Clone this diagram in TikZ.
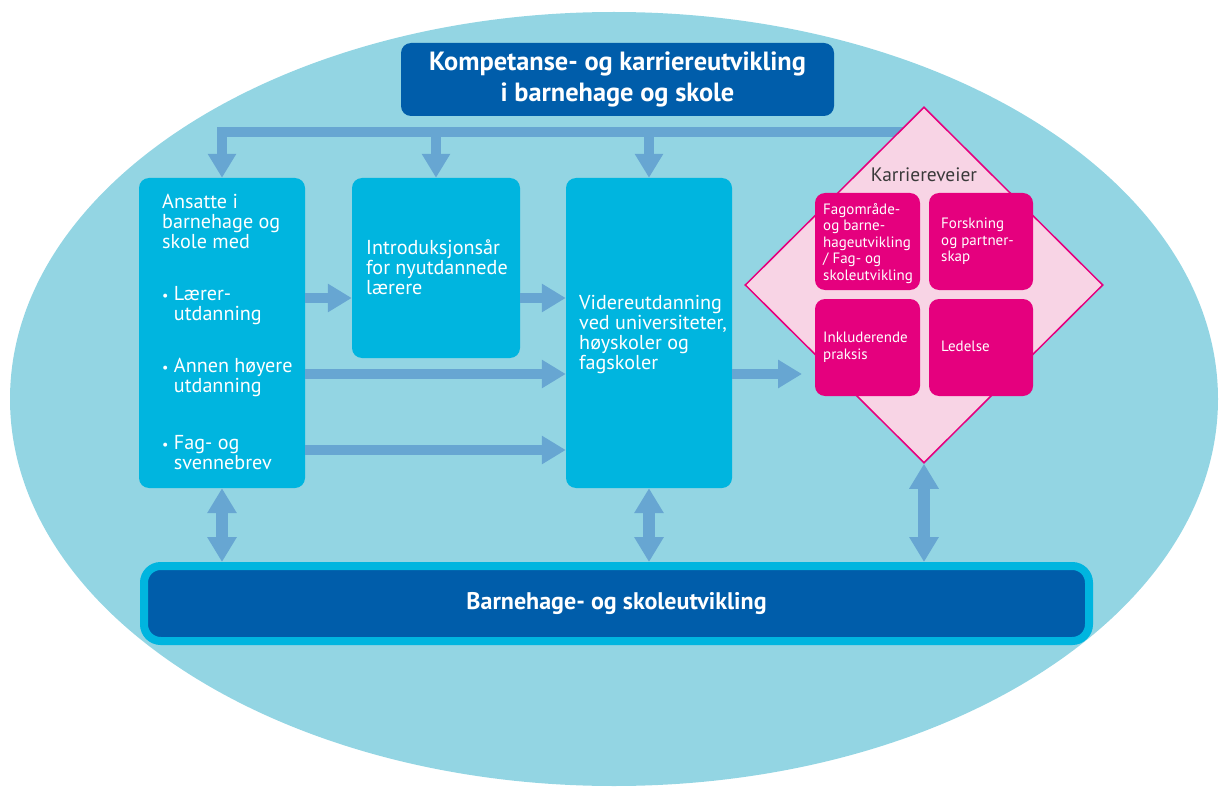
\documentclass[tikz,border=0pt]{standalone}
\usepackage{fontspec}
\setmainfont{PT Sans}
\usetikzlibrary{arrows.meta,fit,shapes.geometric}
\definecolor{ell}{HTML}{93D5E3}
\definecolor{cbox}{HTML}{00B5DF}
\definecolor{arr}{HTML}{67A6D2}
\definecolor{dark}{HTML}{005DAA}
\definecolor{pinkf}{HTML}{F8D4E5}
\definecolor{mag}{HTML}{E5007E}
\definecolor{txtg}{HTML}{3A3A3A}
\newcommand\smbul{{\fontsize{12}{12}\selectfont\textbullet}\ }
\begin{document}
\begin{tikzpicture}[x=0.03cm,y=-0.03cm,
  bluebox/.style={fill=cbox, rounded corners=0.3cm, inner sep=0pt},
  pinkbox/.style={fill=mag, rounded corners=0.3cm, inner sep=0pt},
  darkbox/.style={fill=dark, rounded corners=0.3cm, inner sep=0pt},
  flow/.style={draw=arr, line width=0.3cm, -{Triangle[width=0.81cm,length=0.72cm]}},
  dflow/.style={draw=arr, line width=0.34cm, {Triangle[width=0.84cm,length=0.75cm]}-{Triangle[width=0.84cm,length=0.75cm]}},
  btxt/.style={text=white, anchor=north west, inner sep=0pt, align=left, font=\fontsize{17.2}{17.1}\selectfont},
  ptxt/.style={text=white, anchor=north west, inner sep=0pt, align=left, font=\fontsize{12.8}{14.1}\selectfont},
]
\useasboundingbox (0,0) rectangle (1220,789);
\fill[ell] (614,399) ellipse [x radius=604, y radius=387];

% title
\node[darkbox, fit={(401,43) (834,116)}] (title) {};
\node[text=white, align=center, inner sep=0pt, font=\bfseries\fontsize{22.5}{26.5}\selectfont] (titletxt) at (title.center) {Kompetanse- og karriereutvikling\\i barnehage og skole};

% blue boxes
\node[bluebox, fit={(139,178) (305,488)}] (ans) {};
\node[bluebox, fit={(352,178) (520,358)}] (intro) {};
\node[bluebox, fit={(566,178) (732,488)}] (vid) {};

% top distribution bar
\coordinate (barend) at (905,132);
\draw[flow] (barend) -| (ans.north);
\draw[flow] (intro.north |- barend) -- (intro.north);
\draw[flow] (vid.north |- barend) -- (vid.north);

% diamond
\node[diamond, draw=mag, fill=pinkf, line width=1.3pt, inner sep=0pt, minimum width=358*0.03cm, minimum height=356*0.03cm] (kv) at (924,285) {};
\node[text=txtg, anchor=base, inner sep=0pt, font=\fontsize{16.6}{17}\selectfont] (kvtxt) at (924,182) {Karriereveier};
\node[pinkbox, fit={(815,193) (920,290)}] (p1) {};
\node[pinkbox, fit={(929,193) (1033,290)}] (p2) {};
\node[pinkbox, fit={(815,299) (920,396)}] (p3) {};
\node[pinkbox, fit={(929,299) (1033,396)}] (p4) {};
\coordinate (kvin) at (802,374);

% texts in blue boxes
\node[btxt] (a1) at (162,194) {Ansatte i\\barnehage og\\skole med};
\node[btxt] (a2) at (162,286) {\smbul Lærer-\\\phantom{\smbul}utdanning};
\node[btxt] (a3) at (162,358) {\smbul Annen høyere\\\phantom{\smbul}utdanning};
\node[btxt] (a4) at (162,435) {\smbul Fag- og\\\phantom{\smbul}svennebrev};
\node[btxt] (i1) at (366,239) {Introduksjonsår\\for nyutdannede\\lærere};
\node[btxt] (v1) at (579,295) {Videreutdanning\\ved universiteter,\\høyskoler og\\fagskoler};

% pink texts
\node[ptxt] (t1) at (823,203) {Fagområde-\\og barne-\\hageutvikling\\/ Fag- og\\skoleutvikling};
\node[ptxt] (t2) at (941,218) {Forskning\\og partner-\\skap};
\node[ptxt] (t3) at (823,332) {Inkluderende\\praksis};
\node[ptxt] (t4) at (941,341) {Ledelse};

% horizontal arrows
\draw[flow] (ans.east |- 0,298) -- (intro.west |- 0,298);
\draw[flow] (intro.east |- 0,298) -- (vid.west |- 0,298);
\draw[flow] (ans.east |- 0,374) -- (vid.west |- 0,374);
\draw[flow] (ans.east |- 0,450) -- (vid.west |- 0,450);
\draw[flow] (vid.east |- kvin) -- (kvin);

% bottom bar
\node[fill=dark, draw=cbox, line width=0.24cm, rounded corners=0.5cm, inner sep=0pt, fit={(144,566) (1089,641)}] (bottom) {};
\node[text=white, inner sep=0pt, font=\bfseries\fontsize{20.5}{22}\selectfont] (bottomtxt) at (bottom.center) {Barnehage- og skoleutvikling};

% double arrows
\draw[dflow] (ans.south) -- (ans.south |- bottom.north);
\draw[dflow] (vid.south) -- (vid.south |- bottom.north);
\draw[dflow] (kv.south) -- (kv.south |- bottom.north);
\end{tikzpicture}
\end{document}
